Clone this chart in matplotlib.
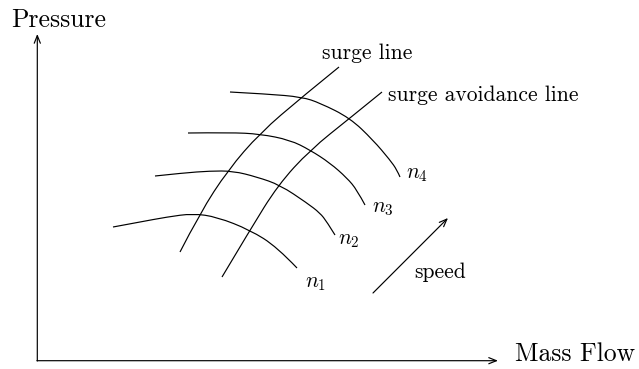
import matplotlib
matplotlib.use("Agg")
import matplotlib.pyplot as plt
from matplotlib.path import Path
from matplotlib.patches import PathPatch

plt.rcParams['mathtext.fontset'] = 'cm'
plt.rcParams['font.family'] = ['cmr10', 'DejaVu Serif']
plt.rcParams['axes.formatter.use_mathtext'] = True

# Speed lines (pixel-space readings: x = mass flow, y = screen row)
n1_x = [113, 140, 167, 193, 217, 250, 277, 297]
n1_y = [227, 222, 217, 213.5, 217, 230, 247, 268]
n2_x = [155, 183, 210, 233, 257, 280, 307, 320, 327, 335]
n2_y = [176, 173, 171, 171, 177, 185, 203, 213, 222, 235]
n3_x = [188, 230, 260, 290, 310, 330, 347, 357, 365]
n3_y = [133, 132.5, 134, 140, 150, 163, 178, 190, 205]
n4_x = [230, 267, 302, 320, 350, 373, 390, 397, 400]
n4_y = [92, 94, 97, 103, 118, 140, 160, 170, 177]
speed_x = [n1_x, n2_x, n3_x, n4_x]
speed_y = [n1_y, n2_y, n3_y, n4_y]
speed_labels = [r'$n_1$', r'$n_2$', r'$n_3$', r'$n_4$']
speed_label_pos = [(305, 287), (338, 244), (372, 212), (406, 178)]

surge_x = [180, 200, 228, 260, 302, 339]
surge_y = [252, 213, 170, 133, 97, 67]
avoid_x = [222, 250, 278, 310, 350, 382]
avoid_y = [277, 230, 185, 150, 118, 92]

fig = plt.figure(figsize=(6.39, 3.69), dpi=100)
ax = fig.add_axes([0, 0, 1, 1])
ax.set_xlim(0, 639)
ax.set_ylim(369, 0)
ax.axis('off')

lw = 0.85


def smooth_curve(xs, ys):
    # quadratic Bezier segments with read points as control points
    pts = list(zip(xs, ys))
    verts = [pts[0]]
    codes = [Path.MOVETO]
    for i in range(1, len(pts) - 1):
        mid = ((pts[i][0] + pts[i + 1][0]) / 2, (pts[i][1] + pts[i + 1][1]) / 2)
        end = pts[-1] if i == len(pts) - 2 else mid
        verts += [pts[i], end]
        codes += [Path.CURVE3, Path.CURVE3]
    if len(pts) == 2:
        verts.append(pts[1])
        codes.append(Path.LINETO)
    ax.add_patch(PathPatch(Path(verts, codes), facecolor='none',
                           edgecolor='black', lw=lw))


for xs, ys in zip(speed_x, speed_y):
    smooth_curve(xs, ys)
smooth_curve(surge_x, surge_y)
smooth_curve(avoid_x, avoid_y)

for lab, (x, y) in zip(speed_labels, speed_label_pos):
    ax.text(x, y, lab, fontsize=15.5, ha='left', va='baseline')

ax.text(322, 59, 'surge line', fontsize=15.5, ha='left', va='baseline')
ax.text(388, 101, 'surge avoidance line', fontsize=15.5, ha='left', va='baseline')
ax.text(414, 278, 'speed', fontsize=15.5, ha='left', va='baseline')

arrow = dict(arrowstyle='->,head_length=0.55,head_width=0.22', color='black',
             lw=lw, shrinkA=0, shrinkB=0, mutation_scale=10)
# axes
ax.annotate('', xy=(37.3, 34), xytext=(37.3, 361), arrowprops=arrow)
ax.annotate('', xy=(498, 360.7), xytext=(36.9, 360.7), arrowprops=arrow)
# speed arrow
ax.annotate('', xy=(448, 218), xytext=(373, 293), arrowprops=arrow)

ax.text(11, 27, 'Pressure', fontsize=18.5, ha='left', va='baseline')
ax.text(515, 361, 'Mass Flow', fontsize=18.5, ha='left', va='baseline')

fig.savefig('out.png', dpi=100)
